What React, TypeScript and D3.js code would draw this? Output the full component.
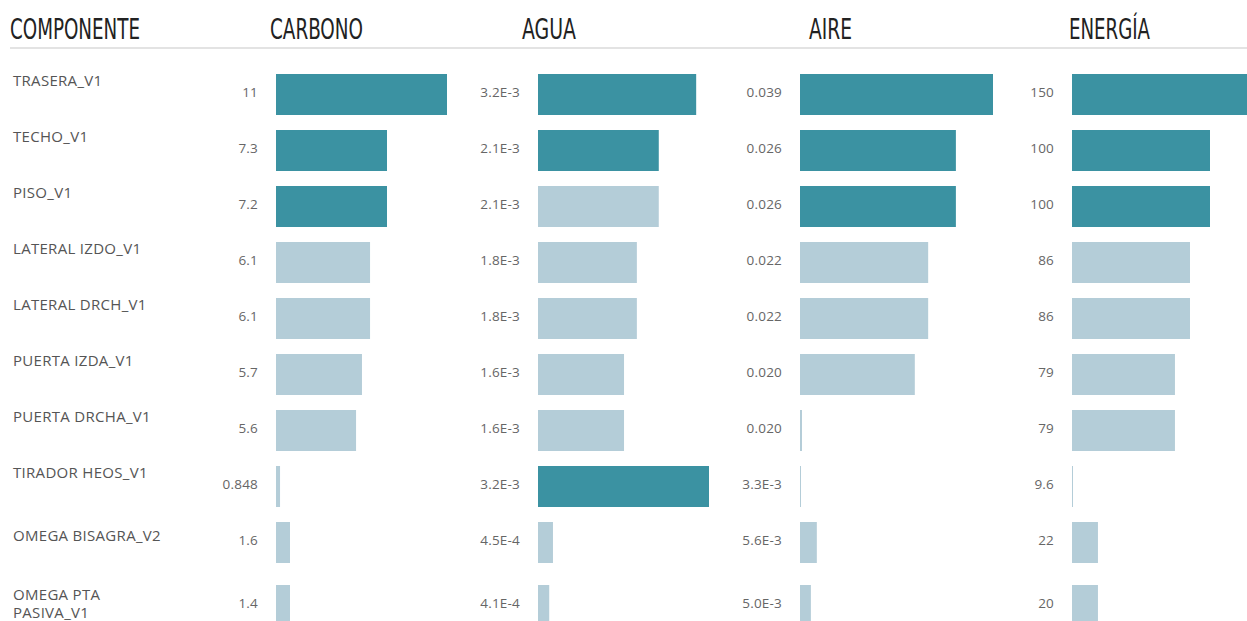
import React from 'react';
import * as d3 from 'd3';

// componentes (filas)
const componentes = [
  'TRASERA_V1',
  'TECHO_V1',
  'PISO_V1',
  'LATERAL IZDO_V1',
  'LATERAL DRCH_V1',
  'PUERTA IZDA_V1',
  'PUERTA DRCHA_V1',
  'TIRADOR HEOS_V1',
  'OMEGA BISAGRA_V2',
  'OMEGA PTA PASIVA_V1',
];

// texto mostrado junto a cada barra
const carbonoTexto = ['11', '7.3', '7.2', '6.1', '6.1', '5.7', '5.6', '0.848', '1.6', '1.4'];
const aguaTexto = ['3.2E-3', '2.1E-3', '2.1E-3', '1.8E-3', '1.8E-3', '1.6E-3', '1.6E-3', '3.2E-3', '4.5E-4', '4.1E-4'];
const aireTexto = ['0.039', '0.026', '0.026', '0.022', '0.022', '0.020', '0.020', '3.3E-3', '5.6E-3', '5.0E-3'];
const energiaTexto = ['150', '100', '100', '86', '86', '79', '79', '9.6', '22', '20'];

// longitud de las barras
const carbonoBarra = [11, 7.14, 7.14, 6.05, 6.05, 5.53, 5.15, 0.26, 0.9, 0.9];
const aguaBarra = [2.96e-3, 2.26e-3, 2.26e-3, 1.85e-3, 1.85e-3, 1.61e-3, 1.61e-3, 3.2e-3, 2.8e-4, 2.1e-4];
const aireBarra = [0.039, 0.0315, 0.0315, 0.0259, 0.0259, 0.0232, 0.0004, 0.0002, 0.0034, 0.0022];
const energiaBarra = [150, 100, 100, 85.5, 85.5, 74.6, 74.6, 0.7, 18.8, 18.8];

// barras resaltadas
const carbonoDestacado = [1, 1, 1, 0, 0, 0, 0, 0, 0, 0];
const aguaDestacado = [1, 1, 0, 0, 0, 0, 0, 1, 0, 0];
const aireDestacado = [1, 1, 1, 0, 0, 0, 0, 0, 0, 0];
const energiaDestacado = [1, 1, 1, 0, 0, 0, 0, 0, 0, 0];

const titulos = ['CARBONO', 'AGUA', 'AIRE', 'ENERGÍA'];

const W = 1247;
const H = 621;
const OSCURO = '#3b92a2';
const CLARO = '#b4cdd8';

// posicion de cada columna: inicio de barra, ancho maximo, titulo
const layout = [
  { x0: 276, ancho: 171, tx: 270, tw: 93 },
  { x0: 538, ancho: 171, tx: 522, tw: 54 },
  { x0: 800, ancho: 193, tx: 809, tw: 43 },
  { x0: 1072, ancho: 207, tx: 1069, tw: 81 },
];

const columnas = titulos.map((titulo, k) => ({
  titulo,
  texto: [carbonoTexto, aguaTexto, aireTexto, energiaTexto][k],
  barra: [carbonoBarra, aguaBarra, aireBarra, energiaBarra][k],
  destacado: [carbonoDestacado, aguaDestacado, aireDestacado, energiaDestacado][k],
  ...layout[k],
}));

// parte el nombre en lineas de 16 caracteres como maximo
function partir(nombre: string): string[] {
  const lineas: string[] = [];
  let actual = '';
  nombre.split(' ').forEach((p) => {
    const prueba = actual ? actual + ' ' + p : p;
    if (prueba.length > 16 && actual) {
      lineas.push(actual);
      actual = p;
    } else actual = prueba;
  });
  lineas.push(actual);
  return lineas;
}

export default function App() {
  const lineas = componentes.map(partir);
  const extra = lineas.map((l) => (l.length - 1) * 7);
  const extraAcum = d3.cumsum(extra);

  const y = d3
    .scaleBand<number>()
    .domain(d3.range(componentes.length))
    .range([66.5, 66.5 + 56 * componentes.length])
    .paddingInner(15 / 56)
    .paddingOuter(15 / 112);

  const barY = (i: number) => (y(i) as number) + extraAcum[i];
  // las etiquetas de varias lineas bajan un poco mas
  const labelY = (i: number) =>
    (y(i) as number) +
    12 +
    extraAcum[Math.min(i + 1, componentes.length - 1)] +
    (lineas[i].length - 1) * 3;

  return (
    <svg
      width={W}
      height={H}
      style={{ position: 'absolute', left: 0, top: 0, background: '#fff' }}
    >
      <g fontFamily="'Liberation Sans Narrow', 'DejaVu Sans Condensed', sans-serif" fill="#222" fontSize={29}>
        <text x={10} y={39} textLength={130} lengthAdjust="spacingAndGlyphs">
          COMPONENTE
        </text>
        {columnas.map((c) => (
          <text key={c.titulo} x={c.tx} y={39} textLength={c.tw} lengthAdjust="spacingAndGlyphs">
            {c.titulo}
          </text>
        ))}
      </g>
      <line x1={10} x2={W} y1={48} y2={48} stroke="#c8c8c8" strokeWidth={1.2} />

      <g fontFamily="'Open Sans', sans-serif" fontSize={15} fill="#555" letterSpacing={0.3}>
        {lineas.map((l, i) => (
          <text key={i} x={13} y={labelY(i)}>
            {l.map((t, j) => (
              <tspan key={j} x={13} dy={j === 0 ? 0 : 18}>
                {t}
              </tspan>
            ))}
          </text>
        ))}
      </g>

      {columnas.map((c) => {
        const x = d3
          .scaleLinear()
          .domain([0, d3.max(c.barra) as number])
          .range([0, c.ancho]);
        return (
          <g key={c.titulo}>
            {c.barra.map((v, i) => (
              <rect
                key={i}
                x={c.x0}
                y={barY(i)}
                width={Math.max(1, x(v))}
                height={y.bandwidth()}
                fill={c.destacado[i] ? OSCURO : CLARO}
              />
            ))}
            {c.texto.map((t, i) => (
              <text
                key={i}
                x={c.x0 - 18}
                y={barY(i) + 23}
                textAnchor="end"
                fontFamily="'Open Sans', sans-serif"
                fontSize={13.5}
                letterSpacing={0.2}
                fill="#666"
              >
                {t}
              </text>
            ))}
          </g>
        );
      })}
    </svg>
  );
}
